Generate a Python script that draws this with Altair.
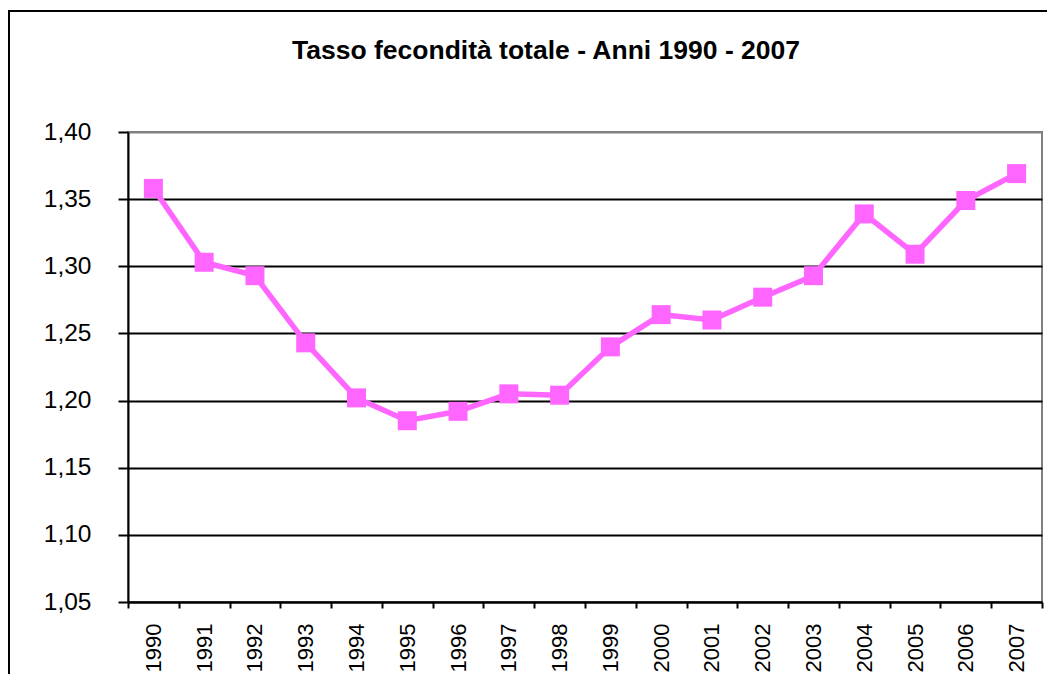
import altair as alt
import pandas as pd

years = list(range(1990, 2008))
tft = [1.358, 1.303, 1.293, 1.243, 1.202, 1.185, 1.192, 1.205, 1.204,
       1.240, 1.264, 1.260, 1.277, 1.293, 1.339, 1.309, 1.349, 1.369]
y_ticks = [1.05, 1.10, 1.15, 1.20, 1.25, 1.30, 1.35, 1.40]
x_ticks = [y - 0.5 for y in years] + [2007.5]
title_text = "Tasso fecondità totale - Anni 1990 - 2007"

df = pd.DataFrame({"anno": years, "tasso": tft})
tdf = pd.DataFrame({"t": [title_text]})

FONT = "Liberation Sans"
PINK = "#FF66FF"

x_enc = alt.X(
    "anno:Q",
    scale=alt.Scale(domain=[1989.5, 2007.5], nice=False, zero=False),
    axis=alt.Axis(
        values=x_ticks,
        labelExpr="datum.value > 2007 ? '' : toString(datum.value + 0.5)",
        labelAngle=270,
        labelOffset=25.4,
        labelOverlap=False,
        labelPadding=15,
        labelFontSize=22,
        labelFont=FONT,
        labelColor="black",
        tickSize=6,
        tickColor="black",
        tickWidth=2,
        domainColor="black",
        domainWidth=2,
        grid=False,
        title=None,
    ),
)
y_enc = alt.Y(
    "tasso:Q",
    scale=alt.Scale(domain=[1.05, 1.40], nice=False, zero=False),
    axis=alt.Axis(
        values=y_ticks,
        labelExpr="replace(format(datum.value, '.2f'), '.', ',')",
        labelFontSize=24.5,
        labelFont=FONT,
        labelColor="black",
        labelPadding=27,
        tickSize=10,
        tickColor="black",
        tickWidth=2,
        domainColor="black",
        domainWidth=2,
        grid=True,
        gridColor=alt.condition(alt.datum.value >= 1.399, alt.value("#808080"), alt.value("black")),
        gridWidth=2,
        title=None,
    ),
)

line = alt.Chart(df).mark_line(color=PINK, strokeWidth=5.5).encode(x=x_enc, y=y_enc)
pts = alt.Chart(df).mark_point(shape="square", filled=True, size=361, color=PINK, opacity=1).encode(
    x="anno:Q", y="tasso:Q"
)

frame = alt.Chart(tdf).mark_rect(filled=False, stroke="black", strokeWidth=2).encode(
    x=alt.value(-119), x2=alt.value(960), y=alt.value(-121), y2=alt.value(620)
)
title = alt.Chart(tdf).mark_text(
    font=FONT, fontSize=26.5, fontWeight="bold", color="black", align="center", baseline="alphabetic"
).encode(text="t:N", x=alt.value(418), y=alt.value(-73))

chart = (
    alt.layer(frame, line, pts, title)
    .properties(
        width=914,
        height=470,
        autosize=alt.AutoSizeParams(type="none"),
        padding={"left": 120, "top": 124, "right": 5, "bottom": 72},
        background="white",
    )
    .configure_view(stroke="#808080", strokeWidth=2)
)

chart.save("out.html", embed_options={"renderer": "svg", "actions": False})
